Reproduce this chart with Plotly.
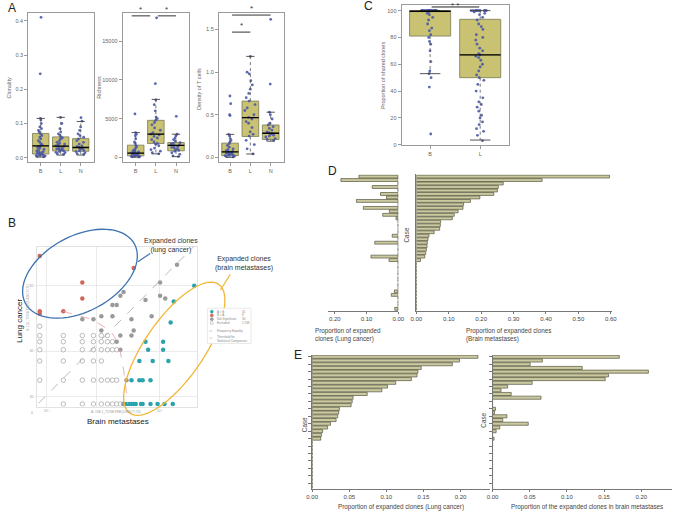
import math
import plotly.graph_objects as go

W, H = 679, 515
FONT = "Liberation Sans, Arial, sans-serif"
BLUE_PT = "#4a58a8"
BOX_FILL = "#c8c272"
BOX_LINE = "#7a7a55"
BAR_FILL = "#cbc9a0"
BAR_LINE = "#55553d"
TXT = "#666666"
AXC = "#9a9a9a"
TEAL = "#2aa3ad"
RED = "#d0675a"
GRAYPT = "#9a9a9a"

# ---------------- Panel A data ----------------
GROUPS_A = ["B", "L", "N"]
CLON_B = [0.41, 0.245, 0.115, 0.11, 0.10, 0.09, 0.085, 0.08, 0.075, 0.07, 0.065, 0.06, 0.055, 0.05,
          0.045, 0.04, 0.038, 0.035, 0.033, 0.03, 0.028, 0.025, 0.022, 0.02, 0.018, 0.016, 0.015,
          0.013, 0.012, 0.01, 0.009, 0.008, 0.007, 0.006, 0.005, 0.004, 0.003]
CLON_L = [0.118, 0.10, 0.085, 0.075, 0.07, 0.065, 0.06, 0.058, 0.055, 0.05, 0.045, 0.042, 0.04,
          0.038, 0.035, 0.033, 0.03, 0.028, 0.026, 0.025, 0.023, 0.022, 0.02, 0.018, 0.016, 0.015,
          0.012, 0.01]
CLON_N = [0.117, 0.107, 0.09, 0.08, 0.07, 0.065, 0.06, 0.055, 0.05, 0.045, 0.04, 0.035, 0.033,
          0.03, 0.028, 0.025, 0.022, 0.02, 0.018, 0.015, 0.012, 0.01]
CLON_Q1 = [0.011, 0.020, 0.019]
CLON_MED = [0.035, 0.034, 0.030]
CLON_Q3 = [0.071, 0.061, 0.056]
CLON_LO = [0.002, 0.008, 0.008]
CLON_HI = [0.115, 0.118, 0.106]

RICH_B = [5600, 3200, 3000, 2800, 2400, 2000, 1800, 1500, 1400, 1200, 1000, 900, 800, 700, 650,
          600, 550, 500, 450, 400, 350, 300, 250, 200, 150, 120, 100, 80, 50]
RICH_L = [18000, 9500, 7400, 6800, 6000, 5200, 5000, 4800, 4500, 4200, 3800, 3500, 3200, 3000,
          2900, 2700, 2500, 2300, 2000, 1800, 1700, 1500, 1200, 1000, 800, 600, 460]
RICH_N = [5300, 3000, 2800, 2500, 2300, 2100, 1900, 1800, 1700, 1600, 1500, 1400, 1300, 1200,
          1100, 1000, 900, 800, 600, 400, 200, 100]
RICH_Q1 = [200, 1790, 850]
RICH_MED = [550, 2990, 1540]
RICH_Q3 = [1580, 4780, 1920]
RICH_LO = [30, 460, 100]
RICH_HI = [3200, 7480, 2990]

DENS_B = [0.72, 0.63, 0.50, 0.49, 0.27, 0.25, 0.22, 0.20, 0.18, 0.16, 0.14, 0.12, 0.10, 0.09,
          0.08, 0.07, 0.065, 0.06, 0.05, 0.045, 0.04, 0.035, 0.03, 0.025, 0.02, 0.015, 0.01, 0.005]
DENS_L = [1.185, 1.0, 0.98, 0.90, 0.85, 0.80, 0.75, 0.70, 0.66, 0.62, 0.58, 0.55, 0.50, 0.47,
          0.45, 0.42, 0.40, 0.35, 0.30, 0.27, 0.25, 0.20, 0.15, 0.10, 0.04]
DENS_N = [1.62, 0.86, 0.53, 0.50, 0.45, 0.40, 0.38, 0.36, 0.34, 0.32, 0.30, 0.29, 0.28, 0.27,
          0.26, 0.25, 0.24, 0.22, 0.21, 0.20]
DENS_Q1 = [0.02, 0.245, 0.21]
DENS_MED = [0.065, 0.466, 0.283]
DENS_Q3 = [0.167, 0.66, 0.38]
DENS_LO = [0.0, 0.04, 0.19]
DENS_HI = [0.27, 1.185, 0.53]

# ---------------- Panel C data ----------------
GROUPS_C = ["B", "L"]
SHARED_B = [100] * 24 + [99, 98, 97, 95, 93, 90, 87, 85, 82, 80, 77, 75, 70, 62, 55, 53, 50, 43, 8]
SHARED_L = [100] * 12 + [99, 98, 97, 95, 93, 90, 88, 86, 82, 80, 78, 75, 72, 70, 68, 67, 66, 65,
                         63, 60, 58, 55, 52, 50, 48, 45, 40, 35, 32, 30, 28, 25, 22, 20, 17, 15,
                         12, 10, 7, 3]
SH_Q1 = [81, 50]
SH_MED = [99.5, 67]
SH_Q3 = [100, 93.5]
SH_LO = [53, 3.5]
SH_HI = [100, 100]

# ---------------- Panel B data (template counts) ----------------
EXPB_X = [118, 56, 50, 20, 38, 22, 38, 16, 26, 46, 12, 16, 18, 24, 10, 11, 12, 13, 14, 17, 18, 24, 31, 40, 54]
EXPB_Y = [30, 17, 8, 4, 4, 3, 3, 2, 2, 2, 1, 1, 1, 1, 0, 0, 0, 0, 0, 0, 0, 0, 0, 0, 0]
EXPL_X = [0, 2, 2, 1, 0, 0, 13]
EXPL_Y = [88, 34, 19, 12, 12, 11, 57]
NS_X = [63, 34, 9, 8, 34, 41, 20, 6, 7, 25, 2, 3, 4, 6, 12, 4, 13, 12, 8, 7, 8, 10, 9]
NS_Y = [64, 34, 24, 21, 21, 19, 18, 15, 15, 10, 9, 9, 10, 10, 9, 6, 6, 5, 5, 4, 3, 1, 0]
EXC_X = [0, 0, 1, 2, 3, 4, 5, 0, 1, 2, 3, 4, 5, 6, 0, 1, 2, 3, 4, 5, 6, 7, 0, 1, 2, 3, 4,
         0, 1, 2, 3, 4, 5, 6, 7, 1, 2, 3, 4, 5, 6, 7, 8, 9]
EXC_Y = [7, 5, 5, 5, 5, 5, 5, 4, 4, 4, 4, 4, 4, 4, 3, 3, 3, 3, 3, 3, 3, 3, 2, 2, 2, 2, 2,
         1, 1, 1, 1, 1, 1, 1, 1, 0, 0, 0, 0, 0, 0, 0, 0, 0]
ZERO_LOG = -0.373
THRESH_LX = [0.0, 0.466, 0.751, 0.881, 0.958, 1.02]
THRESH_LY = [1.078, 0.948, 0.767, 0.56, 0.145, -0.373]
B_XTICKS = [-0.26, 0.518, 1.528]
B_YTICKS = [-0.26, 0.456, 1.482]
B_XLAB = ["10⁻³", "", "10⁻¹"]
B_YLAB = ["10⁻³", "10⁻²", "10⁻¹"]

# ---------------- Panel D / E data ----------------
D_LUNG = [0.124, 0.181, 0, 0.082, 0, 0.056, 0.037, 0.132, 0, 0.110, 0.028, 0.049, 0.007, 0, 0, 0,
          0, 0.019, 0, 0.074, 0, 0, 0, 0.086, 0.029, 0, 0, 0, 0, 0, 0, 0, 0, 0.012, 0.022, 0, 0, 0,
          0.011]
D_BRAIN = [0.596, 0.388, 0.268, 0.253, 0.250, 0.239, 0.196, 0.167, 0.146, 0.144, 0.129, 0.117,
           0.111, 0.075, 0.074, 0.072, 0.055, 0.039, 0.036, 0.034, 0.033, 0.031, 0.029, 0.026,
           0.013, 0, 0, 0, 0, 0, 0, 0, 0, 0, 0, 0, 0, 0, 0]
E_LUNG = [0.2234, 0.1987, 0.189, 0.147, 0.1426, 0.1413, 0.1338, 0.1126, 0.1015, 0.094, 0.0742,
          0.0552, 0.0539, 0.0525, 0.0367, 0.0358, 0.0344, 0.0322, 0.0247, 0.0208, 0.0141, 0.0124,
          0.0115] + [0] * 13
E_BRAIN = [0.1704, 0.067, 0.0506, 0.1206, 0.2096, 0.1559, 0.1515, 0.0533, 0.0203, 0.0114, 0.0251,
           0.0652, 0, 0, 0.004, 0.0026, 0.0194, 0.0137, 0.048, 0.0097, 0.0048, 0, 0.002] + [0] * 13


def px_x(p):
    return p / W


def px_y(p):
    return 1 - p / H


def dom_x(l, r):
    return [l / W, r / W]


def dom_y(t, b):
    return [1 - b / H, 1 - t / H]


fig = go.Figure()
layout = dict(
    width=W, height=H, margin=dict(l=0, r=0, t=0, b=0),
    paper_bgcolor="white", plot_bgcolor="white",
    font=dict(family=FONT, color=TXT, size=6),
    showlegend=False, boxmode="overlay", bargap=0.17,
)
annotations = []
shapes = []


def ann(text, x, y, size=6, color=TXT, angle=0, xanchor="center", yanchor="middle", align="center"):
    annotations.append(dict(text=text, x=px_x(x), y=px_y(y), xref="paper", yref="paper",
                            showarrow=False, font=dict(size=size, color=color, family=FONT),
                            textangle=angle, xanchor=xanchor, yanchor=yanchor, align=align))


def frame_axis(**kw):
    d = dict(showline=True, mirror=True, linecolor=AXC, linewidth=1, ticks="outside", ticklen=3,
             tickcolor=AXC, tickfont=dict(size=5.5, color=TXT), showgrid=False, zeroline=False)
    d.update(kw)
    return d


def box_panel(idx, groups, data, q1, med, q3, lo, hi, width=0.82, jitter=0.7):
    xa = "x" if idx == 1 else f"x{idx}"
    ya = "y" if idx == 1 else f"y{idx}"
    pos = list(range(len(groups)))
    # dotted whiskers with solid caps (R style)
    wx, wy, cx, cy = [], [], [], []
    for i in pos:
        wx += [i, i, None, i, i, None]
        wy += [q3[i], hi[i], None, q1[i], lo[i], None]
        cx += [i - width * 0.25, i + width * 0.25, None, i - width * 0.25, i + width * 0.25, None]
        cy += [hi[i], hi[i], None, lo[i], lo[i], None]
    fig.add_trace(go.Scatter(x=wx, y=wy, mode="lines", xaxis=xa, yaxis=ya,
                             line=dict(color="#555", width=0.8, dash="dot"), hoverinfo="skip"))
    fig.add_trace(go.Scatter(x=cx, y=cy, mode="lines", xaxis=xa, yaxis=ya,
                             line=dict(color="#444", width=0.9), hoverinfo="skip"))
    fig.add_trace(go.Box(x=pos, q1=q1, median=med, q3=q3, lowerfence=q1, upperfence=q3,
                         orientation="v", xaxis=xa, yaxis=ya, fillcolor=BOX_FILL,
                         line=dict(color=BOX_LINE, width=0.8), boxpoints=False, width=width,
                         whiskerwidth=0, hoverinfo="skip"))
    mx, my = [], []
    for i, m in enumerate(med):
        mx += [i - width / 2, i + width / 2, None]
        my += [m, m, None]
    fig.add_trace(go.Scatter(x=mx, y=my, mode="lines", line=dict(color="black", width=1.3),
                             xaxis=xa, yaxis=ya, hoverinfo="skip"))
    for i, vals in enumerate(data):
        fig.add_trace(go.Box(x=[i] * len(vals), y=vals, xaxis=xa, yaxis=ya, boxpoints="all",
                             jitter=jitter, pointpos=0, width=width,
                             fillcolor="rgba(0,0,0,0)", line=dict(color="rgba(0,0,0,0)", width=0),
                             marker=dict(color=BLUE_PT, size=2.8, opacity=0.9), hoverinfo="skip"))


# ---- Panel A1 ----
box_panel(1, GROUPS_A, [CLON_B, CLON_L, CLON_N], CLON_Q1, CLON_MED, CLON_Q3, CLON_LO, CLON_HI)
layout["xaxis"] = frame_axis(domain=dom_x(22.7, 89.3), range=[-0.62, 2.65], tickvals=[0, 1, 2],
                             ticktext=GROUPS_A, anchor="y")
layout["yaxis"] = frame_axis(domain=dom_y(13, 163), range=[-0.0125, 0.423],
                             tickvals=[0, 0.1, 0.2, 0.3, 0.4],
                             ticktext=["0.0", "0.1", "0.2", "0.3", "0.4"], anchor="x")
ann("Clonality", 4, 88, size=5.5, angle=-90)

# ---- Panel A2 ----
box_panel(2, GROUPS_A, [RICH_B, RICH_L, RICH_N], RICH_Q1, RICH_MED, RICH_Q3, RICH_LO, RICH_HI)
layout["xaxis2"] = frame_axis(domain=dom_x(118.7, 186), range=[-0.65, 2.63], tickvals=[0, 1, 2],
                              ticktext=GROUPS_A, anchor="y2")
layout["yaxis2"] = frame_axis(domain=dom_y(13, 163), range=[-600, 18630],
                              tickvals=[0, 5000, 10000, 15000],
                              ticktext=["0", "5000", "10000", "15000"], anchor="x2")
ann("Richness", 95, 88, size=5.5, angle=-90)
for x0, x1 in [(-0.2, 0.72), (1.1, 2.0)]:
    shapes.append(dict(type="line", xref="x2", yref="y2", x0=x0, x1=x1, y0=18250, y1=18250,
                       line=dict(color="#333", width=1)))
    annotations.append(dict(text="*", x=(x0 + x1) / 2, y=18250, xref="x2", yref="y2",
                            showarrow=False, yanchor="bottom", font=dict(size=8, color="#333")))

# ---- Panel A3 ----
box_panel(3, GROUPS_A, [DENS_B, DENS_L, DENS_N], DENS_Q1, DENS_MED, DENS_Q3, DENS_LO, DENS_HI)
layout["xaxis3"] = frame_axis(domain=dom_x(216.7, 282.7), range=[-0.55, 2.64], tickvals=[0, 1, 2],
                              ticktext=GROUPS_A, anchor="y3")
layout["yaxis3"] = frame_axis(domain=dom_y(13, 163), range=[-0.055, 1.695],
                              tickvals=[0, 0.5, 1.0, 1.5],
                              ticktext=["0.0", "0.5", "1.0", "1.5"], anchor="x3")
ann("Density of T cells", 197, 90, size=5.5, angle=-90)
for x0, x1, yv in [(0.1, 1.0, 1.47), (0.1, 2.0, 1.67)]:
    shapes.append(dict(type="line", xref="x3", yref="y3", x0=x0, x1=x1, y0=yv, y1=yv,
                       line=dict(color="#333", width=1)))
    annotations.append(dict(text="*", x=(x0 + x1) / 2, y=yv, xref="x3", yref="y3",
                            showarrow=False, yanchor="bottom", font=dict(size=8, color="#333")))

# ---- Panel C ----
box_panel(4, GROUPS_C, [SHARED_B, SHARED_L], SH_Q1, SH_MED, SH_Q3, SH_LO, SH_HI, jitter=0.45)
layout["xaxis4"] = frame_axis(domain=dom_x(402.7, 512.3), range=[-0.57, 1.58], tickvals=[0, 1],
                              ticktext=GROUPS_C, anchor="y4")
layout["yaxis4"] = frame_axis(domain=dom_y(5, 146), range=[-0.3, 104.2],
                              tickvals=[0, 20, 40, 60, 80, 100],
                              ticktext=["0", "20", "40", "60", "80", "100"], anchor="x4")
ann("Proportion of shared clones", 383.3, 76, size=5.5, angle=-90)
shapes.append(dict(type="line", xref="x4", yref="y4", x0=0.03, x1=0.98, y0=102.7, y1=102.7,
                   line=dict(color="#222", width=1)))
ann("* *", 457, 5.5, size=8, color="#333")


# ---- Panel B scatter ----
def to_log(counts):
    return [math.log10(c) if c > 0 else ZERO_LOG for c in counts]


fig.add_trace(go.Scatter(x=to_log(EXC_X), y=to_log(EXC_Y), mode="markers", xaxis="x5", yaxis="y5",
                         marker=dict(size=4.5, color="white", line=dict(color="#aaaaaa", width=0.8)),
                         hoverinfo="skip"))
fig.add_trace(go.Scatter(x=to_log(NS_X), y=to_log(NS_Y), mode="markers", xaxis="x5", yaxis="y5",
                         marker=dict(size=4.5, color=GRAYPT), hoverinfo="skip"))
fig.add_trace(go.Scatter(x=to_log(EXPB_X), y=to_log(EXPB_Y), mode="markers", xaxis="x5", yaxis="y5",
                         marker=dict(size=4.5, color=TEAL), hoverinfo="skip"))
fig.add_trace(go.Scatter(x=to_log(EXPL_X), y=to_log(EXPL_Y), mode="markers", xaxis="x5", yaxis="y5",
                         marker=dict(size=4.5, color=RED), hoverinfo="skip"))
fig.add_trace(go.Scatter(x=THRESH_LX, y=THRESH_LY, mode="lines", xaxis="x5", yaxis="y5",
                         line=dict(color="#e0a0a0", width=0.8, dash="dash"), hoverinfo="skip"))
shapes.append(dict(type="line", xref="x5", yref="y5", x0=-0.39, y0=-0.36, x1=2.06, y1=2.088,
                   line=dict(color="#aaaaaa", width=0.8, dash="dash")))
b_ax = dict(showline=True, mirror=True, linecolor="#e2e2e2", showgrid=True, gridcolor="#e6e6e6",
            gridwidth=0.8, zeroline=False, ticks="", tickfont=dict(size=3.5, color="#999"))
layout["xaxis5"] = dict(b_ax, domain=dom_x(31.7, 194.3), range=[-0.414, 2.114], tickvals=B_XTICKS,
                        ticktext=B_XLAB, anchor="y5")
layout["yaxis5"] = dict(b_ax, domain=dom_y(248.3, 409), range=[-0.414, 2.088], tickvals=B_YTICKS,
                        ticktext=B_YLAB, anchor="x5")
ann("0", 26, 415, size=3.5, color="#999")
ann("A: 15B-1_TCRB FREQUENCY (%)", 112, 414.5, size=3.2, color="#999")
ann("B: 15L_TCRB FREQUENCY (%)", 23, 310, size=3.2, color="#999", angle=-90)
ann("Lung cancer", 13, 323, size=8, color="#222", angle=-90)
ann("Brain metastases", 114, 424, size=8, color="#222")
ann("Expanded clones<br>(lung cancer)", 167.5, 247, size=7, color="#333")
ann("Expanded clones<br>(brain metastases)", 242.7, 265.5, size=7, color="#333")


def ellipse_path(cx, cy, a, b, theta_deg, n=72):
    t = math.radians(theta_deg)
    pts = []
    for k in range(n + 1):
        u = 2 * math.pi * k / n
        ex = a * math.cos(u)
        ey = b * math.sin(u)
        x = cx + ex * math.cos(t) - ey * math.sin(t)
        y = cy - (ex * math.sin(t) + ey * math.cos(t))
        pts.append((px_x(x), px_y(y)))
    return "M " + " L ".join(f"{x:.5f},{y:.5f}" for x, y in pts) + " Z"


shapes.append(dict(type="path", xref="paper", yref="paper", path=ellipse_path(75.3, 275.3, 63, 38, 28),
                   line=dict(color="#3d72b0", width=1.3)))
shapes.append(dict(type="path", xref="paper", yref="paper", path=ellipse_path(171.3, 350.8, 79, 30, 55),
                   line=dict(color="#f0b83a", width=1.3)))
shapes.append(dict(type="line", xref="paper", yref="paper", x0=px_x(134.3), y0=px_y(263.3),
                   x1=px_x(146.7), y1=px_y(255), line=dict(color="#3d72b0", width=1.2)))
shapes.append(dict(type="line", xref="paper", yref="paper", x0=px_x(218.3), y0=px_y(291.7),
                   x1=px_x(228.3), y1=px_y(276), line=dict(color="#f0b83a", width=1.2)))
# legend box of panel B
shapes.append(dict(type="rect", xref="paper", yref="paper", x0=px_x(205), x1=px_x(249.5),
                   y0=px_y(310), y1=px_y(345.5), line=dict(color="#e4e4e4", width=0.8),
                   fillcolor="white"))
leg_items = [(TEAL, "A > B", "31", 313.5, True), (RED, "B > A", "8", 317.3, True),
             (GRAYPT, "Not Significant", "36", 321.1, True), ("white", "Excluded", "2,768", 324.9, False)]
for col, lab, num, yy, filled in leg_items:
    shapes.append(dict(type="circle", xref="paper", yref="paper", x0=px_x(208), x1=px_x(211),
                       y0=px_y(yy + 1.5), y1=px_y(yy - 1.5), fillcolor=col,
                       line=dict(color=col if filled else "#aaa", width=0.6)))
    ann(lab, 212.5, yy, size=3, color="#888", xanchor="left")
    ann(num, 238, yy, size=3, color="#888", xanchor="left")
shapes.append(dict(type="line", xref="paper", yref="paper", x0=px_x(207), x1=px_x(212),
                   y0=px_y(333), y1=px_y(333), line=dict(color="#aaa", width=0.6, dash="dot")))
shapes.append(dict(type="line", xref="paper", yref="paper", x0=px_x(207), x1=px_x(212),
                   y0=px_y(340), y1=px_y(340), line=dict(color="#e0a0a0", width=0.6, dash="dot")))
ann("Frequency Equality", 213, 333, size=3, color="#888", xanchor="left")
ann("Threshold for<br>Statistical Comparison", 213, 340.5, size=3, color="#888", xanchor="left",
    align="left")

# ---- Panel D ----
rows_d = list(range(len(D_LUNG)))
fig.add_trace(go.Bar(x=D_LUNG, y=rows_d, orientation="h", xaxis="x6", yaxis="y6",
                     marker=dict(color=BAR_FILL, line=dict(color=BAR_LINE, width=0.7)),
                     hoverinfo="skip"))
fig.add_trace(go.Bar(x=D_BRAIN, y=rows_d, orientation="h", xaxis="x7", yaxis="y7",
                     marker=dict(color=BAR_FILL, line=dict(color=BAR_LINE, width=0.7)),
                     hoverinfo="skip"))
bar_x = dict(showline=True, linecolor="#777", ticks="outside", ticklen=2, tickcolor="#777",
             tickfont=dict(size=6, color="#444"), showgrid=False, zeroline=False)
nd = len(D_LUNG)
layout["xaxis6"] = dict(bar_x, domain=dom_x(328.3, 399.3), range=[0.22, 0], tickvals=[0.2, 0.1, 0.0],
                        ticktext=["0.20", "0.10", "0.00"], anchor="y6")
layout["yaxis6"] = dict(domain=dom_y(175.5, 312.7), range=[nd - 0.4, -0.6], showticklabels=False,
                        showgrid=False, zeroline=False, showline=False, anchor="x6")
layout["xaxis7"] = dict(bar_x, domain=dom_x(417.7, 616.5), range=[0, 0.6024],
                        tickvals=[0, 0.1, 0.2, 0.3, 0.4, 0.5, 0.6],
                        ticktext=["0.00", "0.10", "0.20", "0.30", "0.40", "0.50", "0.60"], anchor="y7")
layout["yaxis7"] = dict(domain=dom_y(175.5, 312.7), range=[nd - 0.4, -0.6], showticklabels=False,
                        showgrid=False, zeroline=False, showline=True, linecolor="#777", anchor="x7")
shapes.append(dict(type="line", xref="x6", yref="y6 domain", x0=0, x1=0, y0=0, y1=1,
                   line=dict(color="#555", width=0.8, dash="dot")))
ann("Proportion of expanded<br>clones (Lung cancer)", 313, 337, size=6.3, color="#444",
    xanchor="left", align="left")
ann("Proportion of expanded clones<br>(Brain metastases)", 466.7, 337, size=6.3, color="#444",
    xanchor="left", align="left")
ann("Case", 407.3, 236.7, size=6.3, color="#444", angle=-90)

# ---- Panel E ----
rows_e = list(range(len(E_LUNG)))
ne = len(E_LUNG)
fig.add_trace(go.Bar(x=E_LUNG, y=rows_e, orientation="h", xaxis="x8", yaxis="y8",
                     marker=dict(color=BAR_FILL, line=dict(color=BAR_LINE, width=0.7)),
                     hoverinfo="skip"))
fig.add_trace(go.Bar(x=E_BRAIN, y=rows_e, orientation="h", xaxis="x9", yaxis="y9",
                     marker=dict(color=BAR_FILL, line=dict(color=BAR_LINE, width=0.7)),
                     hoverinfo="skip"))
e_ticks = list(range(0, ne, 2))
layout["xaxis8"] = dict(bar_x, domain=dom_x(311.7, 492.9), range=[0, 0.24],
                        tickvals=[0, 0.05, 0.1, 0.15, 0.2],
                        ticktext=["0.00", "0.05", "0.10", "0.15", "0.20"], anchor="y8")
layout["yaxis8"] = dict(domain=dom_y(357, 491.7), range=[ne - 0.5, -0.5], showticklabels=False,
                        tickvals=e_ticks, ticks="outside", ticklen=3, tickcolor="#777",
                        showgrid=False, zeroline=False, showline=True, linecolor="#777", anchor="x8")
layout["xaxis9"] = dict(bar_x, domain=dom_x(495.3, 677.5), range=[0, 0.2407],
                        tickvals=[0, 0.05, 0.1, 0.15, 0.2],
                        ticktext=["0.00", "0.05", "0.10", "0.15", "0.20"], anchor="y9")
layout["yaxis9"] = dict(domain=dom_y(357, 491.7), range=[ne - 0.5, -0.5], showticklabels=False,
                        tickvals=e_ticks, ticks="outside", ticklen=3, tickcolor="#777",
                        showgrid=False, zeroline=False, showline=True, linecolor="#777", anchor="x9")
ann("Proportion of expanded clones (Lung cancer)", 402.5, 510, size=6.3, color="#444")
ann("Proportion of the expanded clones in brain metastases", 591, 510, size=6.3, color="#444")
ann("Case", 304, 427, size=6.3, color="#444", angle=-90)
ann("Case", 485.7, 423, size=6.3, color="#444", angle=-90)

# ---- Panel letters ----
ann("A", 6, 8, size=12, color="#222")
ann("B", 6, 224, size=12, color="#222")
ann("C", 369.5, 6, size=12, color="#222")
ann("D", 332, 172.5, size=12, color="#222")
ann("E", 297, 357, size=12, color="#222")

layout["annotations"] = annotations
layout["shapes"] = shapes
fig.update_layout(**layout)
fig.write_html("out.html", config={"displayModeBar": False, "staticPlot": True},
               post_script="document.body.style.margin='0px';document.body.style.overflow='hidden';")
